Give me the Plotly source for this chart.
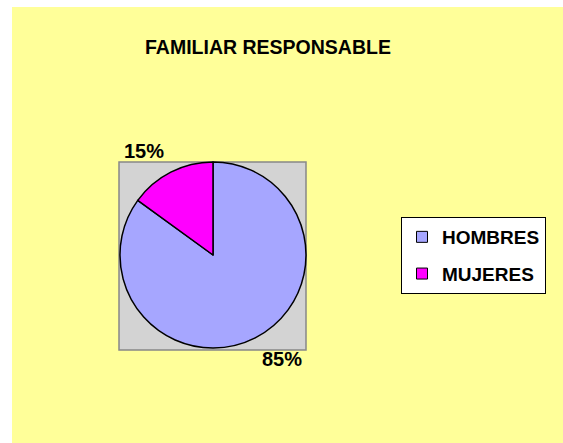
import math
import plotly.graph_objects as go

# ---- data ----
categories = ["HOMBRES", "MUJERES"]
values = [85, 15]
colors = ["#A6A6FF", "#FF00FF"]
title_text = "FAMILIAR RESPONSABLE"

W, H = 563, 443
FONT = "Arial, Liberation Sans, sans-serif"

def px(x):
    return x / W

def py(y):
    return 1 - y / H

# pie geometry (pixels)
pie_x0, pie_x1, pie_y0, pie_y1 = 120, 306, 162, 348
cx, cy = (pie_x0 + pie_x1) / 2, (pie_y0 + pie_y1) / 2

fig = go.Figure()
fig.add_trace(go.Pie(
    labels=categories, values=values, sort=False, direction="clockwise", rotation=0,
    marker=dict(colors=colors, line=dict(color="black", width=1.5)),
    textinfo="none", showlegend=False, hoverinfo="label+percent",
    domain=dict(x=[px(pie_x0), px(pie_x1)], y=[py(pie_y1), py(pie_y0)]),
))

# legend entries
for i, (c, col) in enumerate(zip(categories, colors)):
    fig.add_trace(go.Scatter(
        x=[None], y=[None], mode="markers", name=c, legendgroup=c,
        marker=dict(symbol="square", size=11, color=col, line=dict(color="black", width=1)),
    ))

# percentage labels placed outside, along slice mid-angles
total = sum(values)
cum = 0
label_r = 108
half_w, half_h = 20, 8
annotations = []
for v in values:
    mid = (cum + v / 2) / total * 2 * math.pi
    cum += v
    sx, sy = math.sin(mid), -math.cos(mid)
    lx = cx + label_r * sx + half_w * (1 if sx >= 0 else -1)
    ly = cy + label_r * sy + half_h * (1 if sy >= 0 else -1)
    annotations.append(dict(
        x=px(lx), y=py(ly), xref="paper", yref="paper", showarrow=False,
        text=f"{round(v / total * 100)}%", xanchor="center", yanchor="middle",
        font=dict(family=FONT, size=20, color="black", weight="bold"),
    ))
annotations.append(dict(
    x=px(268), y=py(47), xref="paper", yref="paper", showarrow=False,
    text=title_text, xanchor="center", yanchor="middle",
    font=dict(family=FONT, size=19.5, color="black", weight="bold"),
))

shapes = [
    dict(type="rect", xref="paper", yref="paper", x0=0, x1=px(12), y0=0, y1=1,
         fillcolor="white", line=dict(width=0), layer="below"),
    dict(type="rect", xref="paper", yref="paper", x0=0, x1=1, y0=py(7), y1=1,
         fillcolor="white", line=dict(width=0), layer="below"),
    dict(type="rect", xref="paper", yref="paper", x0=px(119), x1=px(306), y0=py(350), y1=py(162),
         fillcolor="#D3D3D3", line=dict(color="#888888", width=1.5), layer="below"),
]

fig.update_layout(
    width=W, height=H,
    margin=dict(l=0, r=0, t=0, b=0),
    paper_bgcolor="#FFFF99",
    plot_bgcolor="rgba(0,0,0,0)",
    xaxis=dict(visible=False), yaxis=dict(visible=False),
    shapes=shapes, annotations=annotations,
    legend=dict(
        x=px(401), y=py(217), xanchor="left", yanchor="top",
        bgcolor="white", bordercolor="black", borderwidth=1,
        tracegroupgap=9, traceorder="grouped",
        font=dict(family=FONT, size=19, color="black", weight="bold"),
    ),
    showlegend=True,
)

fig.write_html(
    "out.html",
    config={"displayModeBar": False},
    post_script="document.body.style.margin='0';document.body.style.overflow='hidden';",
)
